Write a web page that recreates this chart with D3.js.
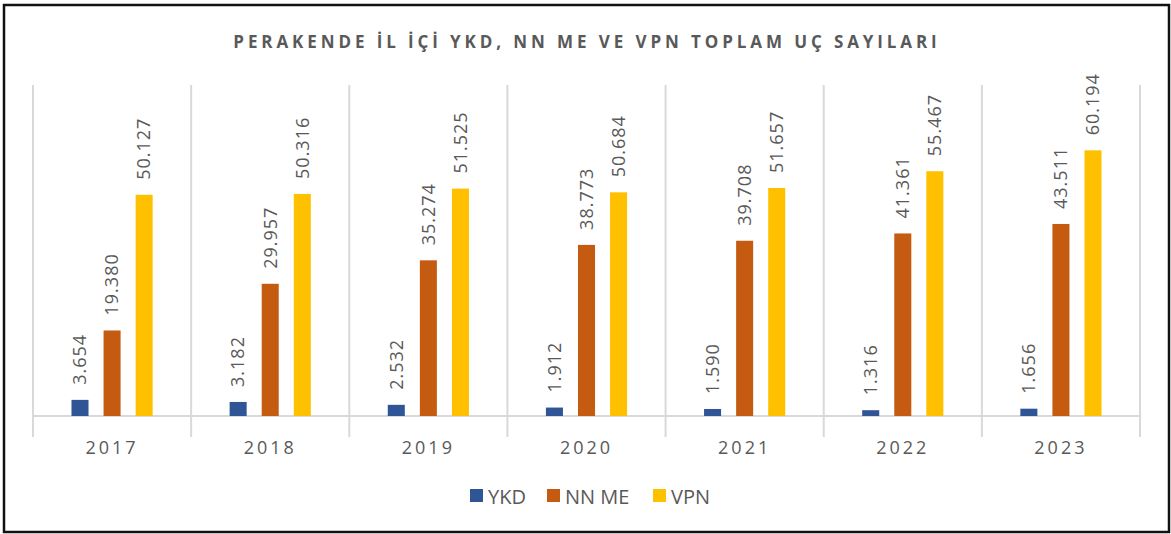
<!DOCTYPE html>
<html>
<head>
<meta charset="utf-8">
<script src="https://cdn.jsdelivr.net/npm/d3@7"></script>
<style>
  body { margin: 0; background: #fff; }
  text { font-family: "Open Sans", "Liberation Sans", sans-serif; fill: #595959; }
</style>
</head>
<body>
<div id="chart"></div>
<script>
var years = ["2017", "2018", "2019", "2020", "2021", "2022", "2023"]
var series = ["YKD", "NN ME", "VPN"]
var ykd = [3654, 3182, 2532, 1912, 1590, 1316, 1656]
var nnme = [19380, 29957, 35274, 38773, 39708, 41361, 43511]
var vpn = [50127, 50316, 51525, 50684, 51657, 55467, 60194]
var colors = ["#2F5597", "#C55A11", "#FFC000"]

var W = 1171, H = 534
var values = [ykd, nnme, vpn]

var svg = d3.select("#chart")
    .append("svg")
    .attr("width", W)
    .attr("height", H)

// outer frame
svg.append("rect")
    .attr("x", 4)
    .attr("y", 5)
    .attr("width", 1165)
    .attr("height", 527)
    .attr("fill", "#fff")
    .attr("stroke", "#111")
    .attr("stroke-width", 2.5)

var x = d3.scaleBand()
    .domain(years)
    .range([33, 1140])

var xs = d3.scaleBand()
    .domain(series)
    .range([0, x.bandwidth()])
    .paddingInner(0.469)
    .paddingOuter(1.2)

var y = d3.scaleLinear()
    .domain([0, 75000])
    .range([416, 85])

var fmt = d3.formatLocale({ decimal: ",", thousands: ".", grouping: [3], currency: ["", ""] }).format(",d")

// separators between categories
svg.append("g")
    .selectAll("line")
    .data(years.concat(["end"]))
    .join("line")
    .attr("x1", function (d, i) { return 33 + i * x.step() })
    .attr("x2", function (d, i) { return 33 + i * x.step() })
    .attr("y1", y(75000))
    .attr("y2", 437)
    .attr("stroke", "#d9d9d9")
    .attr("stroke-width", 2)

// baseline
svg.append("line")
    .attr("x1", x.range()[0])
    .attr("x2", x.range()[1])
    .attr("y1", y(0))
    .attr("y2", y(0))
    .attr("stroke", "#d9d9d9")
    .attr("stroke-width", 2)

// bars
var groups = svg.append("g")
    .selectAll("g")
    .data(years)
    .join("g")
    .attr("transform", function (d) { return "translate(" + x(d) + ",0)" })

series.forEach(function (s, si) {
    groups.append("rect")
        .attr("x", xs(s))
        .attr("y", function (d, i) { return y(values[si][i]) })
        .attr("width", xs.bandwidth())
        .attr("height", function (d, i) { return y(0) - y(values[si][i]) })
        .attr("fill", colors[si])

    groups.append("text")
        .attr("transform", function (d, i) {
            return "translate(" + (xs(s) + xs.bandwidth() / 2) + "," + (y(values[si][i]) - 15) + ") rotate(-90)"
        })
        .attr("dy", "0.35em")
        .attr("font-size", 18)
        .attr("letter-spacing", 1)
        .text(function (d, i) { return fmt(values[si][i]) })
})

// category labels
svg.append("g")
    .selectAll("text")
    .data(years)
    .join("text")
    .attr("x", function (d) { return x(d) + x.bandwidth() / 2 })
    .attr("y", 454)
    .attr("text-anchor", "middle")
    .attr("font-size", 18)
    .attr("letter-spacing", 3)
    .text(function (d) { return d })

// title
svg.append("text")
    .attr("x", 587)
    .attr("y", 48)
    .attr("text-anchor", "middle")
    .attr("font-size", 17)
    .attr("font-weight", "bold")
    .attr("letter-spacing", 3.9)
    .text("PERAKENDE İL İÇİ YKD, NN ME VE VPN TOPLAM UÇ SAYILARI")

// legend
var legendX = [470, 547, 653]
var legend = svg.append("g")
    .selectAll("g")
    .data(series)
    .join("g")
    .attr("transform", function (d, i) { return "translate(" + legendX[i] + ",489)" })

legend.append("rect")
    .attr("width", 13)
    .attr("height", 13)
    .attr("fill", function (d, i) { return colors[i] })

legend.append("text")
    .attr("x", 18)
    .attr("y", 14.5)
    .attr("font-size", 20)
    .text(function (d) { return d })
</script>
</body>
</html>
